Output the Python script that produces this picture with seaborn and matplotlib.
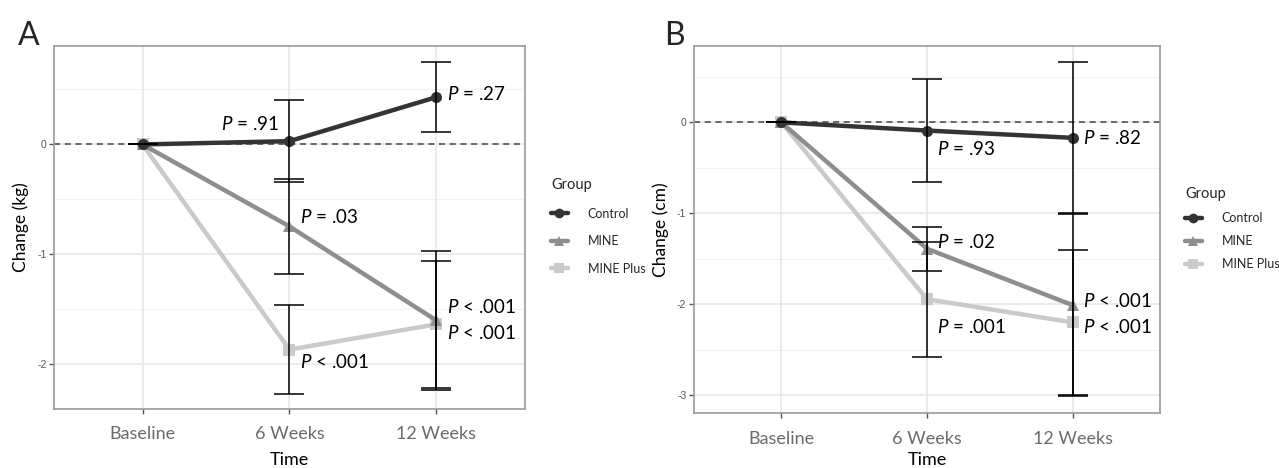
import numpy as np
import pandas as pd
import matplotlib.pyplot as plt
import matplotlib.lines as mlines
import seaborn as sns

# ---- data ----
times = ['Baseline', '6 Weeks', '12 Weeks']
groups = ['Control', 'MINE', 'MINE Plus']

# panel A: change in weight (kg), mean and half-width of error bar
kg_control = [0, 0.03, 0.43]
kg_mine = [0, -0.745, -1.60]
kg_plus = [0, -1.865, -1.635]
kg_control_err = [0, 0.375, 0.32]
kg_mine_err = [0, 0.435, 0.635]
kg_plus_err = [0, 0.405, 0.575]

# panel B: change in waist (cm)
cm_control = [0, -0.09, -0.17]
cm_mine = [0, -1.39, -2.01]
cm_plus = [0, -1.945, -2.20]
cm_control_err = [0, 0.565, 0.83]
cm_mine_err = [0, 0.24, 1.0]
cm_plus_err = [0, 0.633, 0.80]

# p-value labels (text, time index, y)
kg_pvals = [('= .91', 1, 0.19, 'right'), ('= .27', 2, 0.46, 'left'),
            ('= .03', 1, -0.66, 'left'), ('< .001', 2, -1.475, 'left'),
            ('< .001', 2, -1.71, 'left'), ('< .001', 1, -1.975, 'left')]
cm_pvals = [('= .93', 1, -0.29, 'left'), ('= .82', 2, -0.175, 'left'),
            ('= .02', 1, -1.32, 'left'), ('< .001', 2, -1.965, 'left'),
            ('< .001', 2, -2.25, 'left'), ('= .001', 1, -2.25, 'left')]

colors = {'Control': '#343434', 'MINE': '#8e8e8e', 'MINE Plus': '#cacaca'}
markers = {'Control': 'o', 'MINE': '^', 'MINE Plus': 's'}

sns.set_theme(style='white')
plt.rcParams['font.family'] = ['Lato', 'DejaVu Sans']
plt.rcParams['mathtext.fontset'] = 'custom'
plt.rcParams['mathtext.it'] = 'Lato:italic'
plt.rcParams['mathtext.rm'] = 'Lato'


def make_df(ctrl, mine, plus, ectrl, emine, eplus):
    rows = []
    for g, vals, errs in [('Control', ctrl, ectrl), ('MINE', mine, emine), ('MINE Plus', plus, eplus)]:
        for i, t in enumerate(times):
            rows.append({'Time': i, 'Group': g, 'Change': vals[i], 'err': errs[i]})
    return pd.DataFrame(rows)


def draw_panel(ax, df, ylabel, yticks, minor, ylim, pvals, legend_pos, spacing, xpad):
    for y in minor:
        ax.axhline(y, color='#f2f2f2', lw=0.8, zorder=0)
    for y in yticks:
        ax.axhline(y, color='#e6e6e6', lw=1.1, zorder=0)
    for i in range(len(times)):
        ax.axvline(i, color='#e6e6e6', lw=1.1, zorder=0)

    # reversed order so the Control line ends up on top
    sns.lineplot(data=df, x='Time', y='Change', hue='Group', style='Group',
                 hue_order=groups[::-1], style_order=groups[::-1], palette=colors,
                 markers=markers, dashes=False, lw=3.2, markersize=8,
                 markeredgewidth=0, legend=False, ax=ax, zorder=3)
    ax.axhline(0, color='#444444', lw=1.1, ls=(0, (4, 3)), zorder=2)
    for g in groups:
        sub = df[df['Group'] == g]
        ax.errorbar(sub['Time'], sub['Change'], yerr=sub['err'], fmt='none',
                    ecolor='black', elinewidth=1.1, capsize=11, capthick=1.1, zorder=4)

    for txt, xi, y, ha in pvals:
        dx = -0.07 if ha == 'right' else 0.07
        ax.text(xi + dx, y, r'$P$ ' + txt, ha=ha, va='center', fontsize=13.5,
                color='black', zorder=5)

    ax.set_xlim(-0.6, 2.6)
    ax.set_ylim(*ylim)
    ax.set_xticks(range(len(times)))
    ax.set_xticklabels(times, fontsize=13, color='#6b6b6b')
    ax.set_yticks(yticks)
    ax.set_yticklabels([f'{t:g}' for t in yticks], fontsize=7.5, color='#555555',
                       family='Liberation Sans')
    ax.tick_params(axis='both', length=3.5, width=1, color='#555555', bottom=True, left=True)
    ax.tick_params(axis='x', pad=9)
    ax.tick_params(axis='y', pad=2)
    ax.set_xlabel('Time', fontsize=13, labelpad=xpad, color='black')
    ax.set_ylabel(ylabel, fontsize=12.5, labelpad=6, color='black')
    for s in ax.spines.values():
        s.set_color('#9a9a9a')
        s.set_linewidth(1.2)

    handles = [mlines.Line2D([], [], color=colors[g], marker=markers[g], lw=3.2,
                             markersize=7, markeredgewidth=0) for g in groups]
    leg = ax.legend(handles, groups, title='Group', loc='upper left',
                    bbox_to_anchor=legend_pos, bbox_transform=ax.figure.transFigure,
                    frameon=False, fontsize=9, title_fontsize=10.5,
                    handlelength=1.3, handletextpad=1.6, labelspacing=spacing,
                    borderpad=0.5, borderaxespad=0)
    leg._legend_box.align = 'left'


fig = plt.figure(figsize=(12.79, 4.68), dpi=100)
ax_a = fig.add_axes([0.0425, 0.1261, 0.3676, 0.7756])
ax_b = fig.add_axes([0.5426, 0.1169, 0.3643, 0.7848])

df_kg = make_df(kg_control, kg_mine, kg_plus, kg_control_err, kg_mine_err, kg_plus_err)
df_cm = make_df(cm_control, cm_mine, cm_plus, cm_control_err, cm_mine_err, cm_plus_err)

draw_panel(ax_a, df_kg, 'Change (kg)', [0, -1, -2], [0.5, -0.5, -1.5],
           (-2.405, 0.895), kg_pvals, (545 / 1279, 1 - 172 / 468), 1.24, 7)
draw_panel(ax_b, df_cm, 'Change (cm)', [0, -1, -2, -3], [0.5, -0.5, -1.5, -2.5],
           (-3.2, 0.84), cm_pvals, (1179 / 1279, 1 - 181 / 468), 0.88, 3.5)

fig.text(18 / 1279, 1 - 45 / 468, 'A', fontsize=23, va='baseline', ha='left')
fig.text(664 / 1279, 1 - 45 / 468, 'B', fontsize=23, va='baseline', ha='left')

fig.savefig('out.png', dpi=100)
